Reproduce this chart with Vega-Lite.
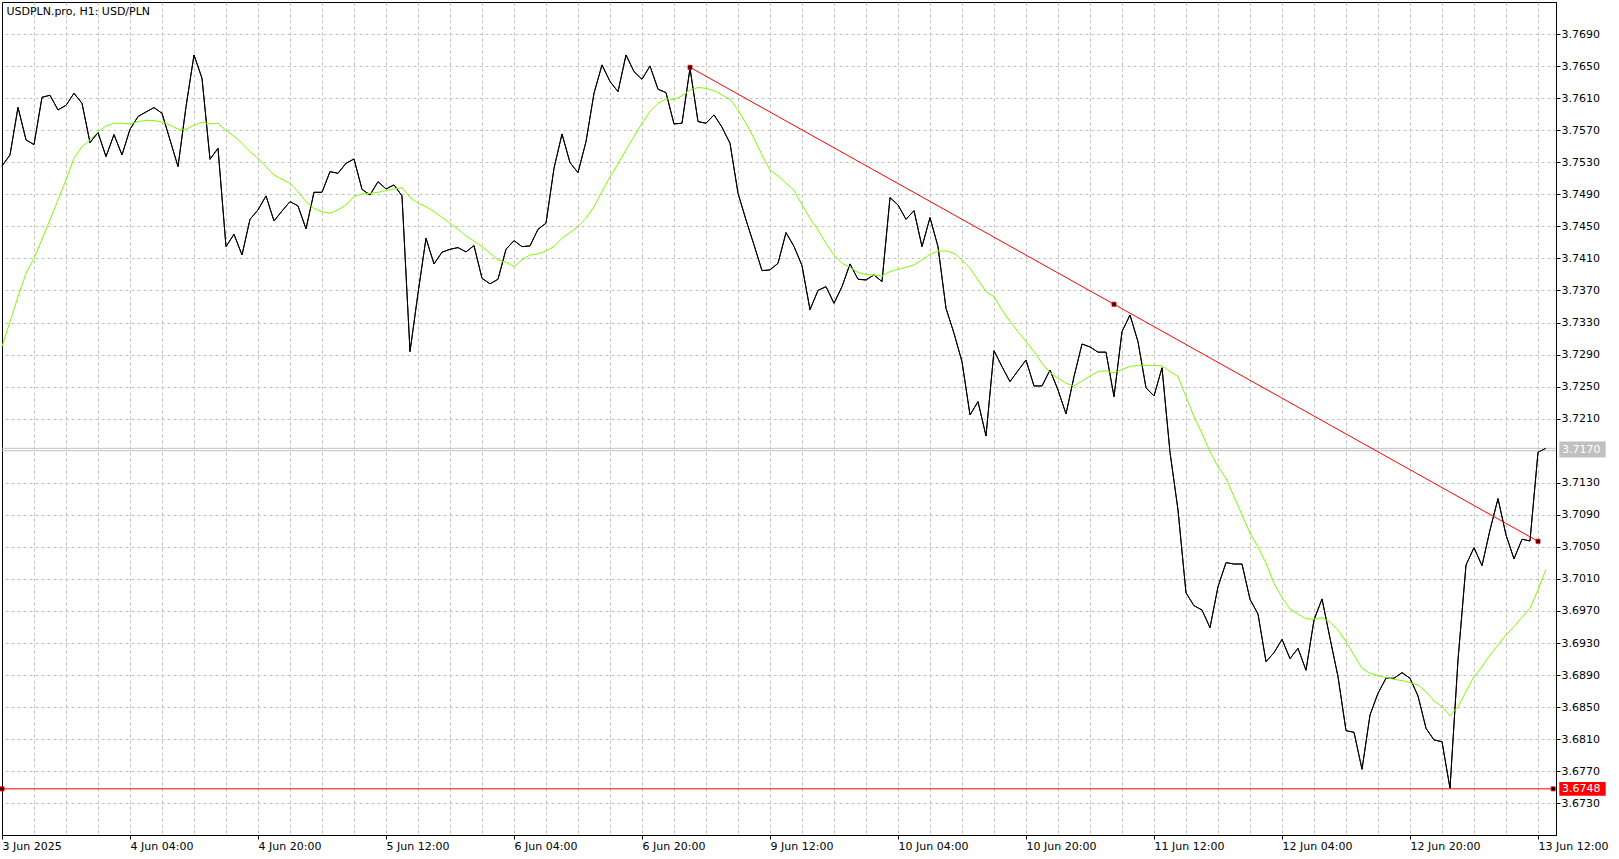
{
  "$schema": "https://vega.github.io/schema/vega-lite/v6.json",
  "width": 1554,
  "height": 833,
  "autosize": {"type": "none"},
  "padding": {"left": 2, "top": 2, "right": 63, "bottom": 24},
  "background": "white",
  "config": {
    "view": {"stroke": "black", "strokeWidth": 1, "fill": "white"},
    "font": "DejaVu Sans",
    "axis": {"labelOverlap": false}
  },
  "datasets": {
    "bars": [
      {"b":0,"c":3.75254,"m":3.73000},{"b":1,"c":3.75391,"m":3.73311},{"b":2,"c":3.75986,"m":3.73623},{"b":3,"c":3.75579,"m":3.73914},
      {"b":4,"c":3.75520,"m":3.74102},{"b":5,"c":3.76111,"m":3.74339},{"b":6,"c":3.76136,"m":3.74580},{"b":7,"c":3.75953,"m":3.74830},
      {"b":8,"c":3.76011,"m":3.75079},{"b":9,"c":3.76161,"m":3.75350},{"b":10,"c":3.76036,"m":3.75495},{"b":11,"c":3.75545,"m":3.75578},
      {"b":12,"c":3.75670,"m":3.75682},{"b":13,"c":3.75371,"m":3.75753},{"b":14,"c":3.75645,"m":3.75787},{"b":15,"c":3.75391,"m":3.75787},
      {"b":16,"c":3.75712,"m":3.75778},{"b":17,"c":3.75870,"m":3.75807},{"b":18,"c":3.75928,"m":3.75824},{"b":19,"c":3.75982,"m":3.75820},
      {"b":20,"c":3.75911,"m":3.75803},{"b":21,"c":3.75579,"m":3.75766},{"b":22,"c":3.75246,"m":3.75712},{"b":23,"c":3.75994,"m":3.75712},
      {"b":24,"c":3.76639,"m":3.75762},{"b":25,"c":3.76348,"m":3.75799},{"b":26,"c":3.75337,"m":3.75778},{"b":27,"c":3.75474,"m":3.75787},
      {"b":28,"c":3.74247,"m":3.75695},{"b":29,"c":3.74401,"m":3.75628},{"b":30,"c":3.74143,"m":3.75537},{"b":31,"c":3.74588,"m":3.75433},
      {"b":32,"c":3.74705,"m":3.75350},{"b":33,"c":3.74880,"m":3.75246},{"b":34,"c":3.74567,"m":3.75141},{"b":35,"c":3.74692,"m":3.75087},
      {"b":36,"c":3.74809,"m":3.75037},{"b":37,"c":3.74755,"m":3.74933},{"b":38,"c":3.74468,"m":3.74809},{"b":39,"c":3.74925,"m":3.74725},
      {"b":40,"c":3.74925,"m":3.74684},{"b":41,"c":3.75183,"m":3.74663},{"b":42,"c":3.75162,"m":3.74705},{"b":43,"c":3.75287,"m":3.74767},
      {"b":44,"c":3.75341,"m":3.74871},{"b":45,"c":3.74962,"m":3.74904},{"b":46,"c":3.74892,"m":3.74913},{"b":47,"c":3.75058,"m":3.74925},
      {"b":48,"c":3.74967,"m":3.74946},{"b":49,"c":3.75017,"m":3.74967},{"b":50,"c":3.74880,"m":3.74985},{"b":51,"c":3.72937,"m":3.74860},
      {"b":52,"c":3.73665,"m":3.74792},{"b":53,"c":3.74351,"m":3.74746},{"b":54,"c":3.74031,"m":3.74684},{"b":55,"c":3.74177,"m":3.74613},
      {"b":56,"c":3.74214,"m":3.74539},{"b":57,"c":3.74235,"m":3.74464},{"b":58,"c":3.74181,"m":3.74380},{"b":59,"c":3.74260,"m":3.74318},
      {"b":60,"c":3.73852,"m":3.74247},{"b":61,"c":3.73782,"m":3.74164},{"b":62,"c":3.73840,"m":3.74081},{"b":63,"c":3.74214,"m":3.74052},
      {"b":64,"c":3.74322,"m":3.73998},{"b":65,"c":3.74247,"m":3.74081},{"b":66,"c":3.74256,"m":3.74143},{"b":67,"c":3.74464,"m":3.74156},
      {"b":68,"c":3.74539,"m":3.74193},{"b":69,"c":3.75225,"m":3.74247},{"b":70,"c":3.75653,"m":3.74351},{"b":71,"c":3.75295,"m":3.74422},
      {"b":72,"c":3.75171,"m":3.74497},{"b":73,"c":3.75558,"m":3.74601},{"b":74,"c":3.76161,"m":3.74746},{"b":75,"c":3.76515,"m":3.74933},
      {"b":76,"c":3.76307,"m":3.75120},{"b":77,"c":3.76182,"m":3.75279},{"b":78,"c":3.76639,"m":3.75454},{"b":79,"c":3.76431,"m":3.75620},
      {"b":80,"c":3.76336,"m":3.75787},{"b":81,"c":3.76502,"m":3.75932},{"b":82,"c":3.76211,"m":3.76036},{"b":83,"c":3.76169,"m":3.76090},
      {"b":84,"c":3.75778,"m":3.76086},{"b":85,"c":3.75787,"m":3.76128},{"b":86,"c":3.76473,"m":3.76203},{"b":87,"c":3.75808,"m":3.76232},
      {"b":88,"c":3.75787,"m":3.76223},{"b":89,"c":3.75891,"m":3.76194},{"b":90,"c":3.75737,"m":3.76140},{"b":91,"c":3.75537,"m":3.76086},
      {"b":92,"c":3.74913,"m":3.75953},{"b":93,"c":3.74580,"m":3.75787},{"b":94,"c":3.74268,"m":3.75599},{"b":95,"c":3.73948,"m":3.75391},
      {"b":96,"c":3.73956,"m":3.75204},{"b":97,"c":3.74039,"m":3.75130},{"b":98,"c":3.74422,"m":3.75040},{"b":99,"c":3.74250,"m":3.74950},
      {"b":100,"c":3.74010,"m":3.74770},{"b":101,"c":3.73460,"m":3.74600},{"b":102,"c":3.73700,"m":3.74455},{"b":103,"c":3.73748,"m":3.74289},
      {"b":104,"c":3.73540,"m":3.74143},{"b":105,"c":3.73748,"m":3.74039},{"b":106,"c":3.74031,"m":3.73989},{"b":107,"c":3.73840,"m":3.73923},
      {"b":108,"c":3.73831,"m":3.73902},{"b":109,"c":3.73894,"m":3.73889},{"b":110,"c":3.73810,"m":3.73881},{"b":111,"c":3.74859,"m":3.73935},
      {"b":112,"c":3.74767,"m":3.73964},{"b":113,"c":3.74588,"m":3.73989},{"b":114,"c":3.74696,"m":3.74018},{"b":115,"c":3.74247,"m":3.74081},
      {"b":116,"c":3.74609,"m":3.74151},{"b":117,"c":3.74247,"m":3.74193},{"b":118,"c":3.73477,"m":3.74193},{"b":119,"c":3.73165,"m":3.74164},
      {"b":120,"c":3.72811,"m":3.74081},{"b":121,"c":3.72146,"m":3.73977},{"b":122,"c":3.72312,"m":3.73831},{"b":123,"c":3.71884,"m":3.73686},
      {"b":124,"c":3.72949,"m":3.73623},{"b":125,"c":3.72749,"m":3.73457},{"b":126,"c":3.72562,"m":3.73311},{"b":127,"c":3.72699,"m":3.73187},
      {"b":128,"c":3.72832,"m":3.73062},{"b":129,"c":3.72508,"m":3.72937},{"b":130,"c":3.72508,"m":3.72791},{"b":131,"c":3.72707,"m":3.72675},
      {"b":132,"c":3.72458,"m":3.72604},{"b":133,"c":3.72159,"m":3.72542},{"b":134,"c":3.72624,"m":3.72508},{"b":135,"c":3.73032,"m":3.72570},
      {"b":136,"c":3.72995,"m":3.72630},{"b":137,"c":3.72930,"m":3.72690},{"b":138,"c":3.72930,"m":3.72697},{"b":139,"c":3.72375,"m":3.72670},
      {"b":140,"c":3.73186,"m":3.72712},{"b":141,"c":3.73394,"m":3.72752},{"b":142,"c":3.73060,"m":3.72765},{"b":143,"c":3.72485,"m":3.72765},
      {"b":144,"c":3.72383,"m":3.72765},{"b":145,"c":3.72735,"m":3.72760},{"b":146,"c":3.71680,"m":3.72690},{"b":147,"c":3.70960,"m":3.72625},
      {"b":148,"c":3.69925,"m":3.72375},{"b":149,"c":3.69766,"m":3.72126},{"b":150,"c":3.69712,"m":3.71917},{"b":151,"c":3.69491,"m":3.71689},
      {"b":152,"c":3.70003,"m":3.71501},{"b":153,"c":3.70303,"m":3.71356},{"b":154,"c":3.70286,"m":3.71127},{"b":155,"c":3.70286,"m":3.70898},
      {"b":156,"c":3.69845,"m":3.70669},{"b":157,"c":3.69662,"m":3.70503},{"b":158,"c":3.69067,"m":3.70295},{"b":159,"c":3.69179,"m":3.70045},
      {"b":160,"c":3.69346,"m":3.69868},{"b":161,"c":3.69105,"m":3.69727},{"b":162,"c":3.69233,"m":3.69660},{"b":163,"c":3.68960,"m":3.69604},
      {"b":164,"c":3.69588,"m":3.69598},{"b":165,"c":3.69850,"m":3.69615},{"b":166,"c":3.69359,"m":3.69567},{"b":167,"c":3.68880,"m":3.69463},
      {"b":168,"c":3.68206,"m":3.69317},{"b":169,"c":3.68186,"m":3.69150},{"b":170,"c":3.67724,"m":3.68985},{"b":171,"c":3.68402,"m":3.68922},
      {"b":172,"c":3.68673,"m":3.68893},{"b":173,"c":3.68860,"m":3.68868},{"b":174,"c":3.68860,"m":3.68847},{"b":175,"c":3.68931,"m":3.68831},
      {"b":176,"c":3.68860,"m":3.68806},{"b":177,"c":3.68639,"m":3.68777},{"b":178,"c":3.68236,"m":3.68693},{"b":179,"c":3.68090,"m":3.68577},
      {"b":180,"c":3.68069,"m":3.68506},{"b":181,"c":3.67487,"m":3.68390},{"b":182,"c":3.69089,"m":3.68506},{"b":183,"c":3.70274,"m":3.68693},
      {"b":184,"c":3.70490,"m":3.68880},{"b":185,"c":3.70266,"m":3.69005},{"b":186,"c":3.70711,"m":3.69150},{"b":187,"c":3.71102,"m":3.69275},
      {"b":188,"c":3.70649,"m":3.69400},{"b":189,"c":3.70349,"m":3.69504},{"b":190,"c":3.70595,"m":3.69621},{"b":191,"c":3.70574,"m":3.69733},
      {"b":192,"c":3.71681,"m":3.69962},{"b":193,"c":3.71731,"m":3.70220}
    ],
    "trend": [
      {"b": 86, "p": 3.76485},
      {"b": 139, "p": 3.73528},
      {"b": 192, "p": 3.70570}
    ],
    "hline": [
      {"b": 0, "p": 3.6748},
      {"b": 193.9, "p": 3.6748}
    ],
    "one": [{}]
  },
  "layer": [
    {
      "data": {"name": "bars"},
      "mark": {"type": "line", "color": "black", "strokeWidth": 1},
      "encoding": {
        "x": {
          "field": "b", "type": "quantitative",
          "scale": {"domain": [0, 194.25], "nice": false, "zero": false},
          "axis": {
            "orient": "bottom",
            "title": null,
            "values": [0,4,8,12,16,20,24,28,32,36,40,44,48,52,56,60,64,68,72,76,80,84,88,92,96,100,104,108,112,116,120,124,128,132,136,140,144,148,152,156,160,164,168,172,176,180,184,188,192],
            "tickCount": 500,
            "grid": true,
            "gridColor": {"condition": {"test": "datum.value === 0", "value": "rgba(0,0,0,0)"}, "value": "#c0c0c0"},
            "gridDash": [3, 3],
            "gridWidth": 1,
            "domain": true,
            "domainColor": "black",
            "domainWidth": 1,
            "ticks": true,
            "tickSize": 4,
            "tickWidth": 1,
            "tickColor": {"condition": {"test": "datum.value % 16 === 0", "value": "black"}, "value": "rgba(0,0,0,0)"},
            "labelExpr": "datum.value % 16 === 0 ? ['3 Jun 2025','4 Jun 04:00','4 Jun 20:00','5 Jun 12:00','6 Jun 04:00','6 Jun 20:00','9 Jun 12:00','10 Jun 04:00','10 Jun 20:00','11 Jun 12:00','12 Jun 04:00','12 Jun 20:00','13 Jun 12:00'][datum.value / 16] : ''",
            "labelAlign": "left",
            "labelBaseline": "top",
            "labelPadding": 1,
            "labelFont": "DejaVu Sans",
            "labelFontSize": 11,
            "labelColor": "black",
            "labelOverlap": false,
            "labelFlush": false,
            "labelBound": false
          }
        },
        "y": {
          "field": "c", "type": "quantitative",
          "scale": {"domain": [3.66904, 3.7730], "nice": false, "zero": false},
          "axis": {
            "orient": "right",
            "title": null,
            "values": [3.673,3.677,3.681,3.685,3.689,3.693,3.697,3.701,3.705,3.709,3.713,3.721,3.725,3.729,3.733,3.737,3.741,3.745,3.749,3.753,3.757,3.761,3.765,3.769],
            "tickCount": 500,
            "format": ".4f",
            "grid": true,
            "gridColor": "#c0c0c0",
            "gridDash": [3, 3],
            "gridWidth": 1,
            "domain": true,
            "domainColor": "black",
            "ticks": true,
            "tickSize": 4,
            "tickColor": "black",
            "labelPadding": 1,
            "labelAlign": "left",
            "labelBaseline": "middle",
            "labelFont": "DejaVu Sans",
            "labelFontSize": 11,
            "labelColor": "black",
            "labelOverlap": false,
            "labelFlush": false,
            "labelBound": false
          }
        }
      }
    },
    {
      "data": {"name": "one"},
      "mark": {"type": "rule", "color": "#c0c0c0", "strokeWidth": 1},
      "encoding": {"y": {"datum": 3.7170, "type": "quantitative"}}
    },
    {
      "data": {"name": "one"},
      "mark": {"type": "rule", "color": "#c0c0c0", "strokeWidth": 1},
      "encoding": {"y": {"datum": 3.7173, "type": "quantitative"}}
    },
    {
      "data": {"name": "bars"},
      "mark": {"type": "line", "color": "black", "strokeWidth": 1},
      "encoding": {
        "x": {"field": "b", "type": "quantitative"},
        "y": {"field": "c", "type": "quantitative"}
      }
    },
    {
      "data": {"name": "bars"},
      "mark": {"type": "line", "color": "#7CFC00", "strokeWidth": 1},
      "encoding": {
        "x": {"field": "b", "type": "quantitative"},
        "y": {"field": "m", "type": "quantitative"}
      }
    },
    {
      "data": {"name": "hline"},
      "mark": {"type": "line", "color": "#ff0000", "strokeWidth": 1},
      "encoding": {
        "x": {"field": "b", "type": "quantitative"},
        "y": {"field": "p", "type": "quantitative"}
      }
    },
    {
      "data": {"name": "trend"},
      "mark": {"type": "line", "color": "#ff0000", "strokeWidth": 1},
      "encoding": {
        "x": {"field": "b", "type": "quantitative"},
        "y": {"field": "p", "type": "quantitative"}
      }
    },
    {
      "data": {"name": "trend"},
      "mark": {"type": "point", "shape": "square", "size": 16, "filled": true, "fill": "black", "stroke": "#ff0000", "strokeWidth": 1, "opacity": 1},
      "encoding": {
        "x": {"field": "b", "type": "quantitative"},
        "y": {"field": "p", "type": "quantitative"}
      }
    },
    {
      "data": {"name": "hline"},
      "mark": {"type": "point", "shape": "square", "size": 16, "filled": true, "fill": "black", "stroke": "#ff0000", "strokeWidth": 1, "opacity": 1},
      "encoding": {
        "x": {"field": "b", "type": "quantitative"},
        "y": {"field": "p", "type": "quantitative"}
      }
    },
    {
      "data": {"name": "one"},
      "mark": {"type": "rect", "color": "#c0c0c0"},
      "encoding": {
        "x": {"datum": 194.66, "type": "quantitative"},
        "x2": {"datum": 200.46},
        "y": {"datum": 3.71815, "type": "quantitative"},
        "y2": {"datum": 3.71615}
      }
    },
    {
      "data": {"name": "one"},
      "mark": {"type": "text", "color": "white", "align": "left", "baseline": "middle", "font": "DejaVu Sans", "fontSize": 11, "text": "3.7170"},
      "encoding": {
        "x": {"datum": 195.0, "type": "quantitative"},
        "y": {"datum": 3.71715, "type": "quantitative"}
      }
    },
    {
      "data": {"name": "one"},
      "mark": {"type": "rect", "color": "#ff0000"},
      "encoding": {
        "x": {"datum": 194.66, "type": "quantitative"},
        "x2": {"datum": 200.46},
        "y": {"datum": 3.67567, "type": "quantitative"},
        "y2": {"datum": 3.67393}
      }
    },
    {
      "data": {"name": "one"},
      "mark": {"type": "text", "color": "white", "align": "left", "baseline": "middle", "font": "DejaVu Sans", "fontSize": 11, "text": "3.6748"},
      "encoding": {
        "x": {"datum": 195.0, "type": "quantitative"},
        "y": {"datum": 3.6748, "type": "quantitative"}
      }
    },
    {
      "data": {"name": "one"},
      "mark": {"type": "text", "color": "black", "align": "left", "baseline": "alphabetic", "font": "DejaVu Sans", "fontSize": 11, "text": "USDPLN.pro, H1:  USD/PLN"},
      "encoding": {
        "x": {"datum": 0.55, "type": "quantitative"},
        "y": {"datum": 3.77138, "type": "quantitative"}
      }
    }
  ]
}
